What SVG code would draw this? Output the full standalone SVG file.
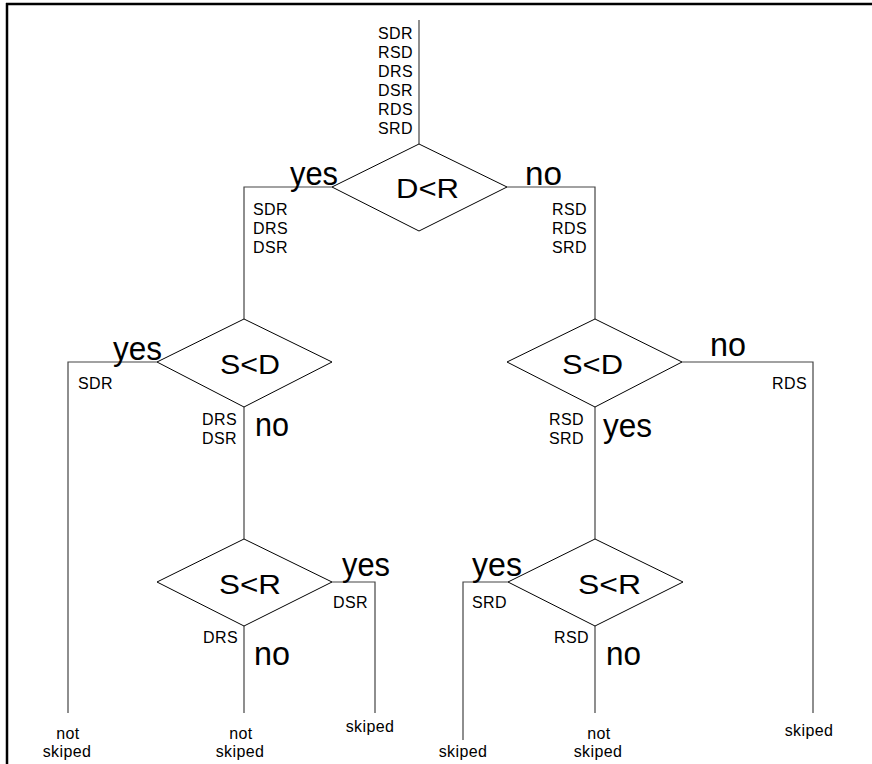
<svg xmlns="http://www.w3.org/2000/svg" width="872" height="764" viewBox="0 0 872 764">
<style>
.frame{stroke:#000;stroke-width:2.5;fill:none}
.dia{fill:#fff;stroke:#000;stroke-width:1}
.ln{fill:none;stroke:#444;stroke-width:1.2}
.s{font-family:"Liberation Sans",Arial,sans-serif;font-size:16px;letter-spacing:0.4px;fill:#000}
.e{text-anchor:end}
.m{text-anchor:middle}
.b{font-family:"Liberation Sans",Arial,sans-serif;font-size:33px;fill:#000}
.c{font-family:"Liberation Sans",Arial,sans-serif;font-size:28px;fill:#000}
</style>
<g id="frame">
<line class="frame" x1="6" y1="4" x2="872" y2="4"/>
<line class="frame" x1="7" y1="3" x2="7" y2="764"/>
</g>
<g id="connectors">
<line class="ln" x1="419" y1="20" x2="419" y2="144"/>
<polyline class="ln" points="332,187 244,187 244,319"/>
<polyline class="ln" points="507,187 595,187 595,319"/>
<polyline class="ln" points="157,362 68,362 68,713"/>
<line class="ln" x1="244" y1="407" x2="244" y2="539"/>
<polyline class="ln" points="682,362 813,362 813,713"/>
<line class="ln" x1="595" y1="407" x2="595" y2="539"/>
<polyline class="ln" points="332,582 375,582 375,713"/>
<line class="ln" x1="244" y1="626" x2="244" y2="713"/>
<polyline class="ln" points="508,582 463,582 463,740"/>
<line class="ln" x1="595" y1="626" x2="595" y2="713"/>
</g>
<g id="start">
<text class="s e" x="413" y="39">SDR</text>
<text class="s e" x="413" y="58">RSD</text>
<text class="s e" x="413" y="77">DRS</text>
<text class="s e" x="413" y="96">DSR</text>
<text class="s e" x="413" y="115">RDS</text>
<text class="s e" x="413" y="134">SRD</text>
</g>
<g id="n-DR">
<polygon class="dia" points="419,144 507,187 419,231 332,187"/>
<text class="c" x="396" y="198" textLength="63" lengthAdjust="spacingAndGlyphs">D&lt;R</text>
<text class="b" x="290" y="185" textLength="48" lengthAdjust="spacingAndGlyphs">yes</text>
<text class="b" x="525" y="185" textLength="37" lengthAdjust="spacingAndGlyphs">no</text>
<text class="s" x="253" y="215">SDR</text>
<text class="s" x="253" y="234">DRS</text>
<text class="s" x="253" y="253">DSR</text>
<text class="s e" x="587" y="215">RSD</text>
<text class="s e" x="587" y="234">RDS</text>
<text class="s e" x="587" y="253">SRD</text>
</g>
<g id="n-SD-left">
<polygon class="dia" points="244,319 332,362 244,407 157,362"/>
<text class="c" x="220" y="374" textLength="60" lengthAdjust="spacingAndGlyphs">S&lt;D</text>
<text class="b" x="113" y="360" textLength="49" lengthAdjust="spacingAndGlyphs">yes</text>
<text class="b" x="255" y="436" textLength="34" lengthAdjust="spacingAndGlyphs">no</text>
<text class="s" x="78" y="389">SDR</text>
<text class="s e" x="237" y="425">DRS</text>
<text class="s e" x="237" y="444">DSR</text>
</g>
<g id="n-SD-right">
<polygon class="dia" points="595,319 682,362 595,407 507,362"/>
<text class="c" x="562" y="374" textLength="61" lengthAdjust="spacingAndGlyphs">S&lt;D</text>
<text class="b" x="710" y="356" textLength="36" lengthAdjust="spacingAndGlyphs">no</text>
<text class="b" x="603" y="437" textLength="49" lengthAdjust="spacingAndGlyphs">yes</text>
<text class="s e" x="807" y="389">RDS</text>
<text class="s e" x="584" y="425">RSD</text>
<text class="s e" x="584" y="444">SRD</text>
</g>
<g id="n-SR-left">
<polygon class="dia" points="244,539 332,582 244,626 157,582"/>
<text class="c" x="219" y="594" textLength="62" lengthAdjust="spacingAndGlyphs">S&lt;R</text>
<text class="b" x="342" y="576" textLength="48" lengthAdjust="spacingAndGlyphs">yes</text>
<text class="b" x="254" y="665" textLength="36" lengthAdjust="spacingAndGlyphs">no</text>
<text class="s" x="333" y="608">DSR</text>
<text class="s e" x="238" y="643">DRS</text>
</g>
<g id="n-SR-right">
<polygon class="dia" points="595,539 683,582 595,626 508,582"/>
<text class="c" x="578" y="594" textLength="63" lengthAdjust="spacingAndGlyphs">S&lt;R</text>
<text class="b" x="472" y="576" textLength="50" lengthAdjust="spacingAndGlyphs">yes</text>
<text class="b" x="606" y="665" textLength="35" lengthAdjust="spacingAndGlyphs">no</text>
<text class="s" x="472" y="608">SRD</text>
<text class="s e" x="589" y="643">RSD</text>
</g>
<g id="outcomes">
<text class="s m" x="68" y="739">not</text>
<text class="s m" x="67" y="757">skiped</text>
<text class="s m" x="241" y="739">not</text>
<text class="s m" x="240" y="757">skiped</text>
<text class="s m" x="370" y="732">skiped</text>
<text class="s m" x="463" y="757">skiped</text>
<text class="s m" x="599" y="739">not</text>
<text class="s m" x="598" y="757">skiped</text>
<text class="s m" x="809" y="736">skiped</text>
</g>
</svg>
